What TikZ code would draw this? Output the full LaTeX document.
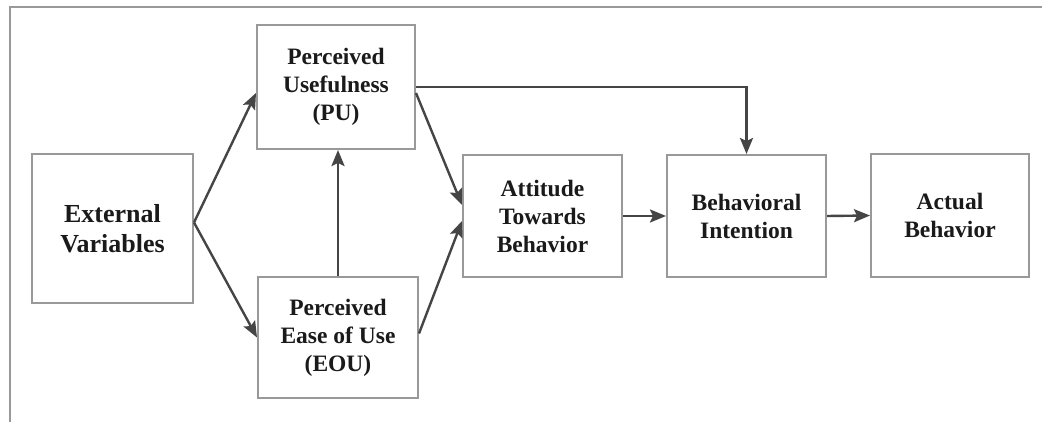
\documentclass[tikz,border=0pt]{standalone}
\usepackage{fontspec}
\setmainfont{Liberation Serif}
\usetikzlibrary{arrows.meta}
\definecolor{boxline}{HTML}{999999}
\definecolor{arrowline}{HTML}{454545}
\definecolor{ink}{HTML}{1A1A1A}
\tikzset{
  tambox/.style={draw=boxline, line width=2pt, fill=white, align=center,
    text=ink, font=\bfseries\fontsize{23.5}{28}\selectfont, inner sep=2pt},
  flow/.style={draw=arrowline, line width=2.4pt,
    -{Stealth[length=16pt,width=13pt,inset=3pt]}},
}
\begin{document}
\begin{tikzpicture}[x=1pt,y=-1pt]
  \useasboundingbox (0,0) rectangle (1042,422);
  \fill[white] (0,0) rectangle (1042,422);
  % frame edges
  \draw[boxline, line width=1.4pt] (10,422) -- (10,7) -- (1042,7);

  % constructs
  \node[tambox, minimum width=161pt, minimum height=149pt,
        font=\bfseries\fontsize{26}{30}\selectfont]
        (ev) at (112.5,228.5) {External\\Variables};
  \node[tambox, minimum width=158pt, minimum height=124pt]
        (pu) at (336,87) {Perceived\\Usefulness\\(PU)};
  \node[tambox, minimum width=160pt, minimum height=121pt]
        (eou) at (338,337.5) {Perceived\\Ease of Use\\(EOU)};
  \node[tambox, minimum width=159pt, minimum height=122pt]
        (atb) at (542.5,216) {Attitude\\Towards\\Behavior};
  \node[tambox, minimum width=159pt, minimum height=122pt]
        (bi) at (746.5,216) {Behavioral\\Intention};
  \node[tambox, minimum width=158pt, minimum height=123pt]
        (ab) at (950,215.5) {Actual\\Behavior};

  % relations
  \coordinate (evout) at ([yshift=6pt]ev.east);
  \draw[flow] (evout) -- ([yshift=-6pt]pu.west);
  \draw[flow] (evout) -- (eou.west);
  \draw[flow] (eou.north) -- (eou.north |- pu.south);
  \draw[flow] (pu.east) -| (bi.north);
  \draw[flow] ([yshift=-6pt]pu.east) -- ([yshift=11pt]atb.west);
  \draw[flow] ([yshift=4pt]eou.east) -- ([yshift=-5pt]atb.west);
  \draw[flow] (atb.east) -- (bi.west);
  \draw[flow] (bi.east) -- (ab.west);
\end{tikzpicture}
\end{document}
